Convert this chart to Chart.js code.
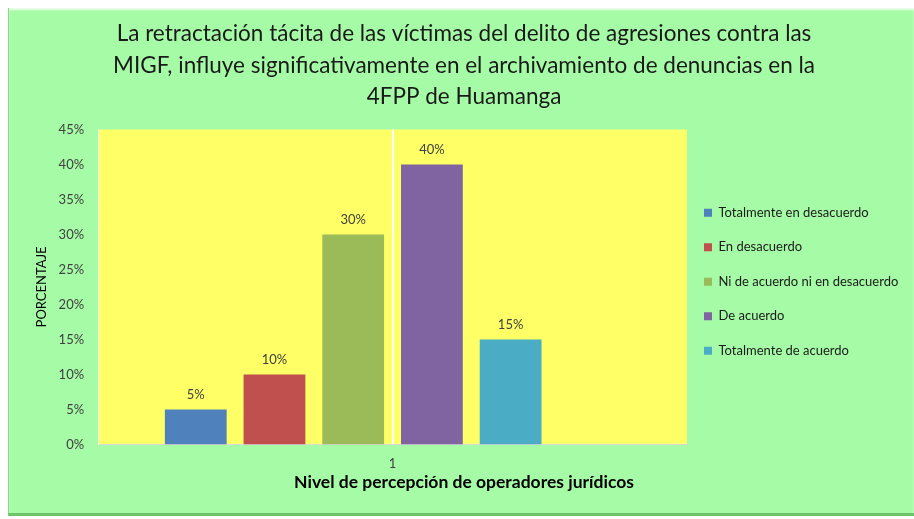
<!DOCTYPE html>
<html>
<head>
<meta charset="utf-8">
<script src="https://cdn.jsdelivr.net/npm/chart.js@4/dist/chart.umd.min.js"></script>
<style>
  html, body { margin: 0; padding: 0; background: #ffffff; width: 914px; height: 519px; overflow: hidden; }
  #frame {
    position: absolute; left: 8px; top: 8px; width: 906px; height: 508px;
    background: #a6fba6;
    border-left: 1px solid #86d886;
    border-bottom: 3px solid #6cc46c;
    box-sizing: border-box;
    box-shadow: inset 0 2px 2px rgba(255,255,255,0.8);
  }
  #box { position: absolute; left: 0; top: 0; width: 905px; height: 505px; }
</style>
</head>
<body>
<div id="frame"><div id="box"><canvas id="c"></canvas></div></div>
<script>
const titleLines = [
  'La retractación tácita de las víctimas del delito de agresiones contra las',
  'MIGF, influye significativamente en el archivamiento de denuncias en la',
  '4FPP de Huamanga'
];
const categories = ['1'];
const seriesNames = [
  'Totalmente en desacuerdo',
  'En desacuerdo',
  'Ni de acuerdo ni en desacuerdo',
  'De acuerdo',
  'Totalmente de acuerdo'
];
const seriesValues = [0.05, 0.10, 0.30, 0.40, 0.15];
const seriesColors = ['#4f81bd', '#c0504d', '#9bbb59', '#8064a2', '#4bacc6'];
const yTicks = [0, 0.05, 0.10, 0.15, 0.20, 0.25, 0.30, 0.35, 0.40, 0.45];
const yAxisTitle = 'PORCENTAJE';
const xAxisTitle = 'Nivel de percepción de operadores jurídicos';

const FONT = 'Lato, "Open Sans", sans-serif';

const datasets = seriesNames.map((name, i) => ({
  label: name,
  data: [seriesValues[i]],
  backgroundColor: seriesColors[i],
  borderWidth: 0
}));
// empty slot (Excel keeps room for an empty series)
datasets.push({ label: '', data: [null], backgroundColor: 'rgba(0,0,0,0)', borderWidth: 0 });

const plotBg = {
  id: 'plotBg',
  beforeDraw(chart) {
    const { ctx, chartArea: a } = chart;
    ctx.save();
    ctx.fillStyle = '#ffff66';
    ctx.fillRect(a.left, a.top, a.right - a.left, a.bottom - a.top);
    ctx.restore();
  }
};

const valueLabels = {
  id: 'valueLabels',
  afterDatasetsDraw(chart) {
    const { ctx } = chart;
    ctx.save();
    ctx.font = '13px ' + FONT;
    ctx.fillStyle = '#404040';
    ctx.textAlign = 'center';
    ctx.textBaseline = 'bottom';
    chart.data.datasets.forEach((ds, di) => {
      const meta = chart.getDatasetMeta(di);
      meta.data.forEach((el, j) => {
        const v = ds.data[j];
        if (v === null || v === undefined) return;
        ctx.fillText(Math.round(v * 100) + '%', el.x, el.y - 8);
      });
    });
    ctx.restore();
  }
};

new Chart(document.getElementById('c'), {
  type: 'bar',
  data: { labels: categories, datasets },
  plugins: [plotBg, valueLabels],
  options: {
    responsive: true,
    maintainAspectRatio: false,
    animation: false,
    layout: { padding: { left: 21, right: 16, top: 0, bottom: 0 } },
    datasets: { bar: { categoryPercentage: 0.802, barPercentage: 0.785 } },
    plugins: {
      title: {
        display: true,
        text: titleLines,
        color: '#1a1a1a',
        font: { family: FONT, size: 22.5, weight: 'normal', lineHeight: 1.4 },
        padding: { top: 10, bottom: 17 }
      },
      subtitle: {
        display: true,
        position: 'bottom',
        text: xAxisTitle,
        color: '#000000',
        font: { family: FONT, size: 17.5, weight: 'bold' },
        padding: { top: -12, bottom: 20 }
      },
      legend: {
        position: 'right',
        fullSize: false,
        maxWidth: 211,
        title: {
          display: true,
          text: '',
          font: { size: 1, lineHeight: 1 },
          padding: { top: -7, bottom: 0 }
        },
        labels: {
          boxWidth: 8, boxHeight: 8,
          padding: 17,
          color: '#1a1a1a',
          font: { family: FONT, size: 13, lineHeight: 1.346 },
          generateLabels: (chart) => Chart.defaults.plugins.legend.labels.generateLabels(chart)
            .filter(item => item.text !== '')
            .map(item => Object.assign(item, { text: [item.text] }))
        }
      },
      tooltip: { enabled: false }
    },
    scales: {
      x: {
        offset: true,
        grid: { display: true, offset: false, color: '#ffffff', lineWidth: 2, drawTicks: false },
        border: { display: true, color: '#d9d9d9', width: 1 },
        ticks: { color: '#404040', font: { family: FONT, size: 13 }, padding: 12 }
      },
      y: {
        min: 0, max: 0.45,
        afterBuildTicks: (axis) => { axis.ticks = yTicks.map(v => ({ value: v })); },
        grid: { display: false, drawTicks: false },
        border: { display: true, color: '#f2f2f2', width: 1 },
        ticks: {
          color: '#404040',
          font: { family: FONT, size: 13 },
          padding: 14,
          callback: (v) => Math.round(v * 100) + '%'
        },
        title: {
          display: true,
          text: yAxisTitle,
          color: '#000000',
          font: { family: FONT, size: 13 },
          padding: { top: 4, bottom: -5 }
        }
      }
    }
  }
});
</script>
</body>
</html>
